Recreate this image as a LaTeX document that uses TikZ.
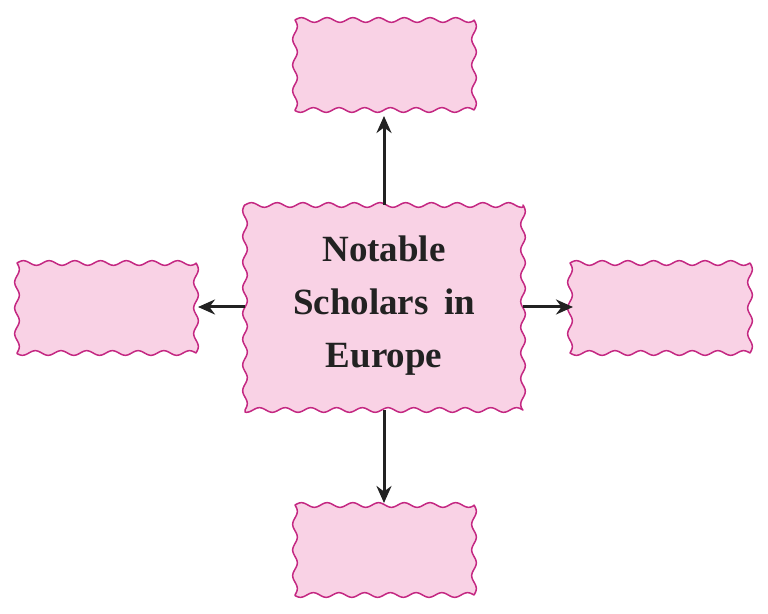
\documentclass[tikz,border=0pt]{standalone}
\usepackage{fontspec}
\setmainfont{Liberation Serif}
\usetikzlibrary{arrows.meta}
\definecolor{boxfill}{RGB}{249,210,229}
\definecolor{boxline}{RGB}{196,40,130}
\definecolor{ink}{RGB}{34,34,34}
\tikzset{
 wavy/.style={fill=boxfill,draw=boxline,line width=1.5pt,line join=round},
 conn/.style={draw=ink,line width=3pt,-{Stealth[length=17pt,width=15pt]}}
}
\newcommand\wavybox[4]{%
 \draw[wavy] plot[domain=#1:#3,samples=200,smooth] (\x,{#4+2.3*sin((\x-#1)*14)})
  -- plot[domain=#4:#2,samples=120,smooth] ({#3+2.3*sin((#4-\x)*14)},\x)
  -- plot[domain=#3:#1,samples=200,smooth] (\x,{#2+2.3*sin((#3-\x)*14)})
  -- plot[domain=#2:#4,samples=120,smooth] ({#1+2.3*sin((\x-#2)*14)},\x) -- cycle;}
\begin{document}
\begin{tikzpicture}[x=1pt,y=1pt]
\useasboundingbox (0,0) rectangle (768,613);
\wavybox{245}{203}{523}{408}
\wavybox{295}{503}{474}{593}
\wavybox{295}{18}{474}{108}
\wavybox{17}{260}{196}{350}
\wavybox{570}{260}{750}{350}
\node[font=\bfseries\fontsize{37}{53}\selectfont,align=center,text=ink] (c) at (384,307) {Notable\\Scholars\, in\\Europe};
\coordinate (c1) at (384,408); \coordinate (t) at (384,497);
\coordinate (c2) at (384,203); \coordinate (b) at (384,110);
\coordinate (c3) at (245,306); \coordinate (l) at (198,306);
\coordinate (c4) at (523,306); \coordinate (r) at (573,306);
\draw[conn] (c1) -- (t);
\draw[conn] (c2) -- (b);
\draw[conn] (c3) -- (l);
\draw[conn] (c4) -- (r);
\end{tikzpicture}
\end{document}
